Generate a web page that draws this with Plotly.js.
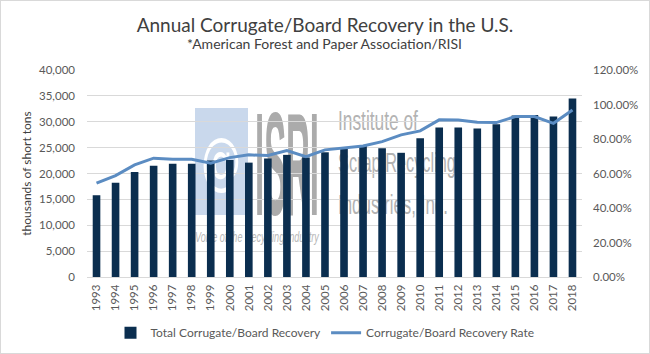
<!DOCTYPE html>
<html>
<head>
<meta charset="utf-8">
<script src="https://cdn.plot.ly/plotly-3.0.1.min.js"></script>
<style>
  html, body { margin:0; padding:0; background:#ffffff; }
  #wrap { position:relative; width:650px; height:354px; overflow:hidden; }
  #wm { position:absolute; left:0; top:0; }
  #isri { position:absolute; left:255px; top:111px; height:107px; font-family:"Liberation Sans", sans-serif; font-weight:bold; font-size:146px; line-height:107px; color:#ababab; white-space:nowrap; transform-origin:0 0; }
  #chart { position:absolute; left:0; top:0; width:650px; height:354px; }
  #frame { position:absolute; left:0; top:0; width:648px; height:352px; border:1px solid #d9d9d9; pointer-events:none; }
</style>
</head>
<body>
<div id="wrap">
  <svg id="wm" width="650" height="354" xmlns="http://www.w3.org/2000/svg">
    <rect x="195" y="108" width="53" height="107" fill="#c9d8ec"/>
    <text class="fit" data-x="221" data-y="182" data-w="40" text-anchor="middle" font-family="DejaVu Sans" font-size="62" fill="#ffffff">@</text>
    <text class="fit" data-x="338" data-y="130" data-w="80" font-family="Liberation Sans" font-size="28" fill="#b3b3b3">Institute of</text>
    <text class="fit" data-x="338" data-y="172" data-w="118" font-family="Liberation Sans" font-size="28" fill="#b3b3b3">Scrap Recycling</text>
    <text class="fit" data-x="338" data-y="214" data-w="110" font-family="Liberation Sans" font-size="28" fill="#b3b3b3">Industries, Inc.</text>
    <text class="fit" data-x="195" data-y="242" data-w="124" font-family="Liberation Sans" font-style="italic" font-size="15" fill="#b8b8b8">Voice of the Recycling Industry</text>
  </svg>
  <div id="isri"><span id="isriText">ISRI</span></div>
  <div id="chart"></div>
  <div id="frame"></div>
</div>
<script>
document.querySelectorAll('#wm text.fit').forEach(function(el){
  const w = el.getComputedTextLength();
  const target = parseFloat(el.getAttribute('data-w'));
  const sx = w > 0 ? target / w : 1;
  el.setAttribute('x', 0); el.setAttribute('y', 0);
  el.setAttribute('transform', 'translate(' + el.getAttribute('data-x') + ',' + el.getAttribute('data-y') + ') scale(' + sx + ',1)');
});
(function(){
  const span = document.getElementById('isriText');
  const w = span.getBoundingClientRect().width;
  if (w > 0) document.getElementById('isri').style.transform = 'scaleX(' + (64 / w) + ')';
})();

const years = ['1993','1994','1995','1996','1997','1998','1999','2000','2001','2002','2003','2004','2005','2006','2007','2008','2009','2010','2011','2012','2013','2014','2015','2016','2017','2018'];
const totalRecovery = [15800,18200,20300,21500,21900,21900,22500,22600,22100,22900,23600,23100,24100,24900,25300,24900,24000,26800,28900,28900,28700,29500,31200,31300,31000,34500];
const recoveryRate = [0.544,0.588,0.650,0.689,0.683,0.683,0.660,0.692,0.708,0.704,0.733,0.698,0.737,0.747,0.760,0.785,0.824,0.847,0.911,0.910,0.897,0.895,0.930,0.930,0.891,0.968];
const chartTitle = 'Annual Corrugate/Board Recovery in the U.S.';
const chartSubtitle = '*American Forest and Paper Association/RISI';

const fam = 'Lato, "Open Sans", sans-serif';
const tickFont = {family:fam, size:11.5, color:'#595959'};

const traces = [
  {
    type:'bar', name:'Total Corrugate/Board Recovery',
    x: years, y: totalRecovery,
    marker:{color:'#0b2e4f'},
    yaxis:'y'
  },
  {
    type:'scatter', mode:'lines', name:'Corrugate/Board Recovery Rate',
    x: years, y: recoveryRate,
    line:{color:'#5b8cc2', width:3},
    yaxis:'y2'
  }
];

const layout = {
  width:650, height:354,
  margin:{l:87, r:67.5, t:70, b:76.7},
  paper_bgcolor:'rgba(0,0,0,0)',
  plot_bgcolor:'rgba(0,0,0,0)',
  bargap:0.6,
  showlegend:true,
  title:{
    text:chartTitle,
    font:{family:fam, size:19, color:'#404040'},
    x:0.5, xanchor:'center', xref:'container', y:1-25/354, yref:'container', yanchor:'middle'
  },
  annotations:[{
    text:chartSubtitle, showarrow:false,
    xref:'paper', yref:'paper', x:(325-87)/495.5, xanchor:'center',
    y:(354-76.7-43)/(354-70-76.7), yanchor:'middle',
    font:{family:fam, size:14, color:'#404040'}
  }],
  xaxis:{
    type:'category', tickangle:-90, tickfont:tickFont,
    showgrid:false, showline:true, linecolor:'#d9d9d9', ticks:'',
    ticklabelstandoff:2
  },
  yaxis:{
    range:[0,40000], dtick:5000, tickformat:',d', tickfont:tickFont,
    showgrid:true, gridcolor:'#d9d9d9', zeroline:false, ticks:'',
    ticklabelstandoff:11,
    title:{text:'thousands of short tons', font:{family:fam, size:12, color:'#404040'}, standoff:4}
  },
  yaxis2:{
    overlaying:'y', side:'right', range:[0,1.2], dtick:0.2, tickformat:'.2%',
    tickfont:tickFont, showgrid:false, zeroline:false, ticks:'',
    ticklabelstandoff:10
  },
  legend:{
    orientation:'h', xref:'container', x:0.5, xanchor:'center',
    yref:'container', y:0.06, yanchor:'middle',
    font:{family:fam, size:12, color:'#595959'},
    traceorder:'normal', itemwidth:30
  }
};

Plotly.newPlot('chart', traces, layout, {staticPlot:true, displayModeBar:false});
</script>
</body>
</html>
